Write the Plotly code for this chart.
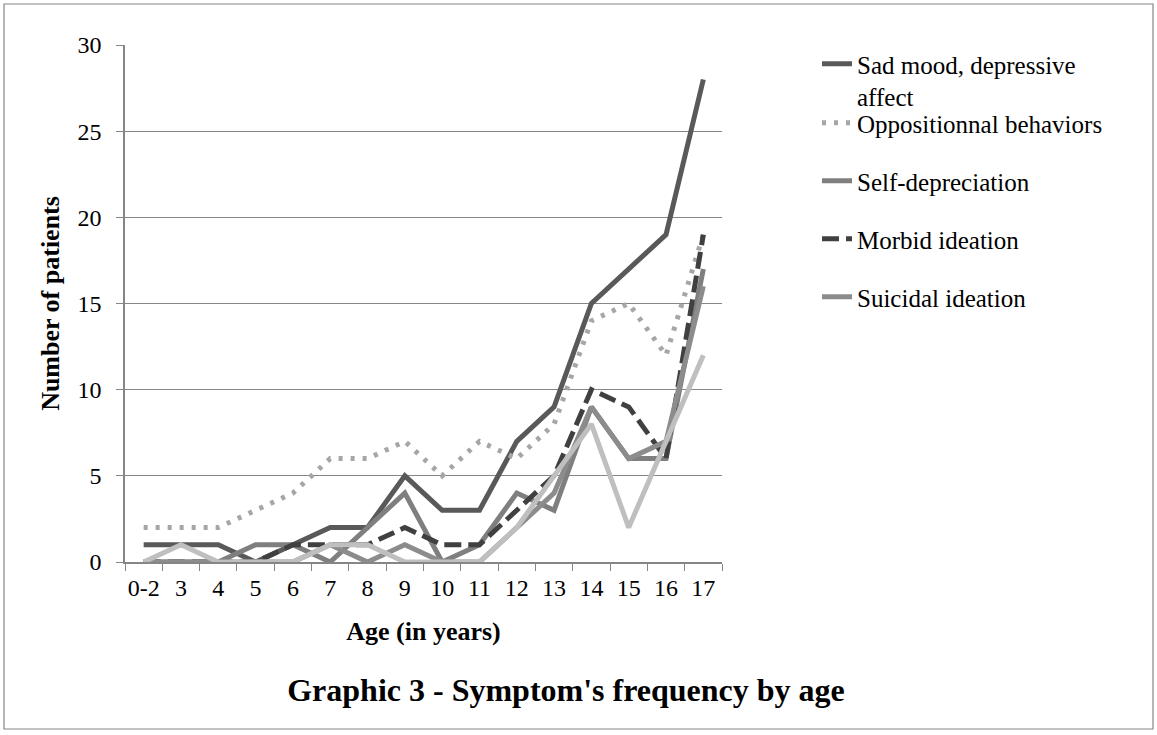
import plotly.graph_objects as go

ages = ["0-2", "3", "4", "5", "6", "7", "8", "9", "10", "11", "12", "13", "14", "15", "16", "17"]
sad_mood = [1, 1, 1, 0, 1, 2, 2, 5, 3, 3, 7, 9, 15, 17, 19, 28]
oppositional = [2, 2, 2, 3, 4, 6, 6, 7, 5, 7, 6, 8, 14, 15, 12, 19]
self_depreciation = [0, 0, 0, 1, 1, 0, 2, 4, 0, 1, 4, 3, 9, 6, 6, 17]
morbid = [0, 0, 0, 0, 1, 1, 1, 2, 1, 1, 3, 5, 10, 9, 6, 19]
suicidal = [0, 0, 0, 0, 0, 1, 0, 1, 0, 0, 2, 4, 9, 6, 7, 16]
sixth_series = [0, 1, 0, 0, 0, 1, 1, 0, 0, 0, 2, 5, 8, 2, 7, 12]

W, H = 1157, 735
L, R, T, B = 125, 722, 45, 562
FONT = "Liberation Serif"

series = [
    ("Sad mood, depressive<br>affect", sad_mood, "#595959", "solid", "legend"),
    ("Oppositionnal behaviors", oppositional, "#a6a6a6", "4px,8px", "legend2"),
    ("Self-depreciation", self_depreciation, "#7f7f7f", "solid", "legend3"),
    ("Morbid ideation", morbid, "#404040", "17px,7px", "legend4"),
    ("Suicidal ideation", suicidal, "#8c8c8c", "solid", "legend5"),
]

fig = go.Figure()
for name, vals, color, dash, lg in series:
    fig.add_trace(go.Scatter(x=ages, y=vals, mode="lines", name=name,
                             line=dict(color=color, width=5, dash=dash),
                             legend=lg))
fig.add_trace(go.Scatter(x=ages, y=sixth_series, mode="lines", name="",
                         line=dict(color="#bfbfbf", width=5), showlegend=False))

# legend placement (container coords)
leg_tops = [41, 100, 158, 216, 274]
leg_x = 817 / W
legend_common = dict(xref="container", yref="container", xanchor="left", yanchor="top",
                     bgcolor="rgba(0,0,0,0)", font=dict(family=FONT, size=25, color="#000"),
                     valign="top", itemwidth=30, tracegroupgap=0)
layout_legends = {}
for i, top in enumerate(leg_tops):
    key = "legend" if i == 0 else f"legend{i+1}"
    layout_legends[key] = dict(legend_common, x=leg_x, y=1 - top / H)

pw, ph = R - L, B - T
def px(x):
    return (x - L) / pw
def py(y):
    return (B - y) / ph

fig.update_layout(
    width=W, height=H,
    margin=dict(l=L, r=W - R, t=T, b=H - B),
    paper_bgcolor="white", plot_bgcolor="white",
    font=dict(family=FONT, size=24, color="#000"),
    showlegend=True,
    xaxis=dict(type="category", tickson="boundaries", ticks="outside", ticklen=7,
               range=[-0.5, len(ages) - 0.5], tickangle=0,
               tickcolor="#868686", showline=True, linecolor="#868686", linewidth=1.5,
               showgrid=False, tickfont=dict(family=FONT, size=24), ticklabelstandoff=3,
               title=dict(text="<b>Age (in years)</b>", font=dict(family=FONT, size=26), standoff=22)),
    yaxis=dict(range=[0, 30], dtick=5, ticks="outside", ticklen=7, tickcolor="#868686",
               showline=True, linecolor="#868686", linewidth=1.5,
               gridcolor="#868686", gridwidth=1.3, zeroline=False,
               tickfont=dict(family=FONT, size=24), ticklabelstandoff=10,
               title=dict(text="<b>Number of patients</b>", font=dict(family=FONT, size=26), standoff=10)),
    title=dict(text="<b>Graphic 3 - Symptom's frequency by age</b>", x=566 / W, xanchor="center",
               y=1 - 690 / H, yanchor="middle", font=dict(family=FONT, size=32)),
    shapes=[dict(type="rect", xref="paper", yref="paper",
                 x0=px(4), x1=px(1153), y0=py(729), y1=py(4),
                 line=dict(color="#868686", width=1.2), fillcolor="rgba(0,0,0,0)", layer="below")],
    **layout_legends,
)

fig.write_html("out.html", config={"displayModeBar": False},
               post_script="document.body.style.margin='0px';")
